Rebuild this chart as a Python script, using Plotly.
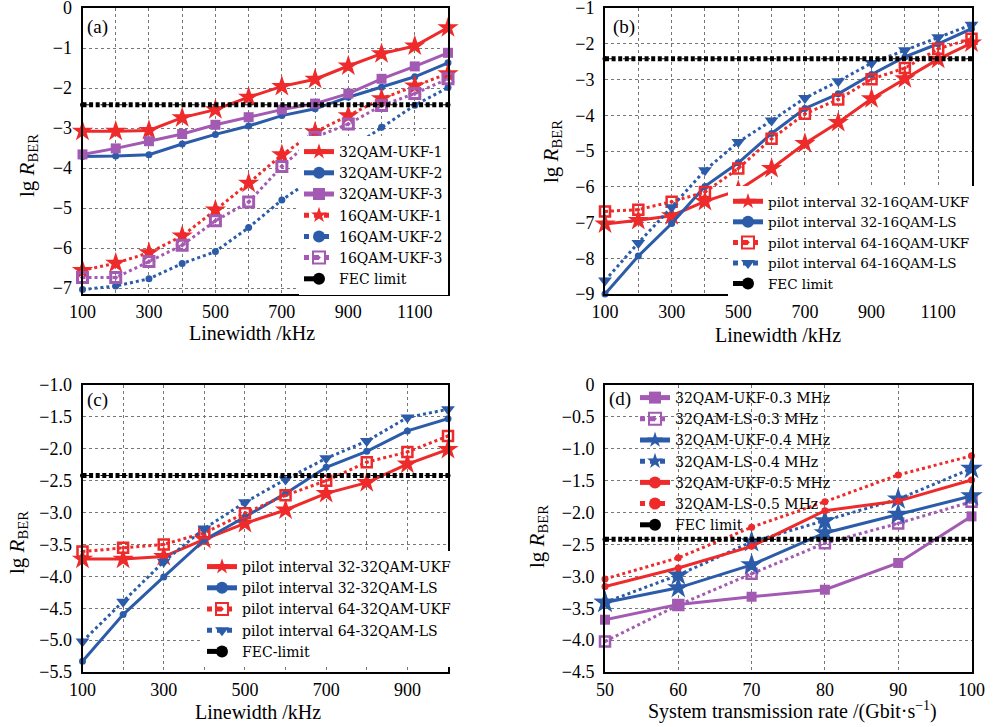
import plotly.graph_objects as go

W, H = 994, 727
OFF = 0
FONT = "Liberation Serif"
LEGFONT = "DejaVu Serif"
RED = "#ee2a2a"
BLUE = "#2c5ca9"
PURPLE = "#a35ab2"
FEC = -2.42

# ---------------- panel (a) ----------------
a_x = [100, 200, 300, 400, 500, 600, 700, 800, 900, 1000, 1100, 1200]
a_32_ukf1 = [-3.08, -3.08, -3.06, -2.74, -2.54, -2.23, -1.96, -1.78, -1.45, -1.14, -0.95, -0.49]
a_32_ukf2 = [-3.71, -3.70, -3.67, -3.40, -3.16, -2.95, -2.69, -2.52, -2.23, -1.98, -1.72, -1.37]
a_32_ukf3 = [-3.66, -3.51, -3.33, -3.15, -2.92, -2.73, -2.54, -2.39, -2.14, -1.77, -1.46, -1.12]
a_16_ukf1 = [-6.56, -6.38, -6.12, -5.70, -5.05, -4.38, -3.67, -3.10, -2.69, -2.27, -1.95, -1.64]
a_16_ukf2 = [-7.04, -6.95, -6.77, -6.39, -6.09, -5.49, -4.80, -4.23, -3.55, -2.98, -2.43, -1.99]
a_16_ukf3 = [-6.74, -6.74, -6.34, -5.93, -5.32, -4.85, -3.96, -3.23, -2.90, -2.44, -2.14, -1.77]
a_yticks = [0, -1, -2, -3, -4, -5, -6, -7]

# ---------------- panel (b) ----------------
b_x = [100, 200, 300, 400, 500, 600, 700, 800, 900, 1000, 1100, 1200]
b_32_ukf = [-7.04, -6.94, -6.81, -6.41, -6.10, -5.49, -4.79, -4.20, -3.54, -2.98, -2.43, -1.98]
b_32_ls = [-9.00, -7.94, -7.03, -5.99, -5.33, -4.51, -3.81, -3.40, -2.86, -2.37, -2.00, -1.58]
b_64_ukf = [-6.69, -6.64, -6.42, -6.15, -5.49, -4.66, -3.96, -3.56, -2.99, -2.68, -2.14, -1.86]
b_64_ls = [-8.62, -7.57, -6.57, -5.54, -4.75, -4.15, -3.52, -3.05, -2.54, -2.18, -1.82, -1.47]
b_yticks = [-1, -2, -3, -4, -5, -6, -7, -8, -9]

# ---------------- panel (c) ----------------
c_x = [100, 200, 300, 400, 500, 600, 700, 800, 900, 1000]
c_32_ukf = [-3.73, -3.73, -3.69, -3.42, -3.17, -2.96, -2.70, -2.53, -2.24, -2.01]
c_32_ls = [-5.33, -4.60, -4.01, -3.43, -3.07, -2.70, -2.29, -2.04, -1.72, -1.53]
c_64_ukf = [-3.61, -3.55, -3.50, -3.32, -3.01, -2.73, -2.50, -2.21, -2.05, -1.80]
c_64_ls = [-5.02, -4.40, -3.77, -3.25, -2.84, -2.48, -2.15, -1.88, -1.51, -1.38]
c_ytickvals = [-1.0, -1.5, -2.0, -2.5, -3.0, -3.5, -4.0, -4.5, -5.0, -5.5]
c_yticktext = ["−1.0", "−1.5", "−2.0", "−2.5", "−3.0", "−3.5", "−4.0", "−4.5", "−5.0", "−5.5"]

# ---------------- panel (d) ----------------
d_x = [50, 60, 70, 80, 90, 100]
d_ukf_03 = [-3.68, -3.44, -3.32, -3.21, -2.79, -2.06]
d_ls_03 = [-4.02, -3.45, -2.96, -2.48, -2.17, -1.83]
d_ukf_04 = [-3.41, -3.18, -2.82, -2.32, -2.03, -1.74]
d_ls_04 = [-3.41, -2.98, -2.46, -2.13, -1.79, -1.31]
d_ukf_05 = [-3.16, -2.87, -2.53, -1.97, -1.82, -1.49]
d_ls_05 = [-3.04, -2.71, -2.23, -1.83, -1.41, -1.11]
d_ytickvals = [0, -0.5, -1.0, -1.5, -2.0, -2.5, -3.0, -3.5, -4.0, -4.5]
d_yticktext = ["0", "−0.5", "−1.0", "−1.5", "−2.0", "−2.5", "−3.0", "−3.5", "−4.0", "−4.5"]

fig = go.Figure()


def add(x, y, name, color, dash, symbol, size, n, legend, lw=3, mlw=0):
    fig.add_trace(go.Scatter(
        x=x, y=y, name=name, mode="lines+markers",
        line=dict(color=color, width=lw, dash=dash),
        marker=dict(color=color, symbol=symbol, size=size,
                    line=dict(color=color, width=mlw)),
        xaxis="x" if n == 1 else f"x{n}", yaxis="y" if n == 1 else f"y{n}",
        legend=legend, cliponaxis=False))


def add_fec(xr, n, legend, name="FEC limit"):
    xa = "x" if n == 1 else f"x{n}"
    ya = "y" if n == 1 else f"y{n}"
    fig.add_trace(go.Scatter(
        x=xr, y=[FEC, FEC], name=name, mode="lines+markers",
        line=dict(color="black", width=1, dash="dash"),
        marker=dict(color="black", size=5, symbol="circle"),
        xaxis=xa, yaxis=ya, legend=legend, cliponaxis=False))
    fig.add_trace(go.Scatter(
        x=xr, y=[FEC, FEC], mode="lines", showlegend=False, hoverinfo="skip",
        line=dict(color="black", width=5, dash="4px,2.6px"),
        xaxis=xa, yaxis=ya, cliponaxis=False))


# (a)
add(a_x, a_32_ukf1, "32QAM-UKF-1", RED, "solid", "star", 16, 1, "legend")
add(a_x, a_32_ukf2, "32QAM-UKF-2", BLUE, "solid", "circle", 7, 1, "legend")
add(a_x, a_32_ukf3, "32QAM-UKF-3", PURPLE, "solid", "square", 10, 1, "legend")
add(a_x, a_16_ukf1, "16QAM-UKF-1", RED, "dot", "star", 16, 1, "legend")
add(a_x, a_16_ukf2, "16QAM-UKF-2", BLUE, "dot", "circle", 7, 1, "legend")
add(a_x, a_16_ukf3, "16QAM-UKF-3", PURPLE, "dot", "square-open-dot", 10, 1, "legend", mlw=3)
add_fec([100, 1200], 1, "legend")

# (b)
add(b_x, b_32_ukf, "pilot interval 32-16QAM-UKF", RED, "solid", "star", 16, 2, "legend2")
add(b_x, b_32_ls, "pilot interval 32-16QAM-LS", BLUE, "solid", "circle", 7, 2, "legend2")
add(b_x, b_64_ukf, "pilot interval 64-16QAM-UKF", RED, "dot", "square-open-dot", 10, 2, "legend2", mlw=2.5)
add(b_x, b_64_ls, "pilot interval 64-16QAM-LS", BLUE, "dot", "triangle-down", 12, 2, "legend2")
add_fec([100, 1200], 2, "legend2")

# (c)
add(c_x, c_32_ukf, "pilot interval 32-32QAM-UKF", RED, "solid", "star", 16, 3, "legend3")
add(c_x, c_32_ls, "pilot interval 32-32QAM-LS", BLUE, "solid", "circle", 7, 3, "legend3")
add(c_x, c_64_ukf, "pilot interval 64-32QAM-UKF", RED, "dot", "square-open-dot", 10, 3, "legend3", mlw=2.5)
add(c_x, c_64_ls, "pilot interval 64-32QAM-LS", BLUE, "dot", "triangle-down", 12, 3, "legend3")
add_fec([100, 1000], 3, "legend3", "FEC-limit")

# (d)
add(d_x, d_ukf_03, "32QAM-UKF-0.3 MHz", PURPLE, "solid", "square", 10, 4, "legend4")
add(d_x, d_ls_03, "32QAM-LS-0.3 MHz", PURPLE, "dot", "square-open-dot", 10, 4, "legend4", mlw=2.5)
add(d_x, d_ukf_04, "32QAM-UKF-0.4 MHz", BLUE, "solid", "star", 17, 4, "legend4")
add(d_x, d_ls_04, "32QAM-LS-0.4 MHz", BLUE, "dot", "star", 17, 4, "legend4")
add(d_x, d_ukf_05, "32QAM-UKF-0.5 MHz", RED, "solid", "circle", 7, 4, "legend4")
add(d_x, d_ls_05, "32QAM-LS-0.5 MHz", RED, "dot", "circle", 7, 4, "legend4")
add_fec([50, 100], 4, "legend4")


def px(v):
    return min(1.0, max(0.0, (v - OFF) / W))


def py(v):
    return min(1.0, max(0.0, 1 - (v - OFF) / H))


GRIDC = "#767676"
GRID = dict(showgrid=True, gridcolor=GRIDC, griddash="dot", gridwidth=1)
AX = dict(showline=True, linecolor="black", linewidth=2, mirror=True, zeroline=False,
          automargin=False, layer="above traces", ticklabeloverflow="allow",
          ticks="", tickfont=dict(family=FONT, size=18, color="black"), **GRID)


def xax(dom, rng, dtick, tick0, anchor, minor_dtick=None):
    d = dict(domain=dom, range=rng, dtick=dtick, tick0=tick0, anchor=anchor,
             ticklabelstandoff=0, **AX)
    if minor_dtick:
        d["minor"] = dict(dtick=minor_dtick, tick0=tick0, showgrid=True,
                          gridcolor=GRIDC, griddash="dot", gridwidth=1)
    return d


def yax(dom, rng, anchor, **kw):
    return dict(domain=dom, range=rng, anchor=anchor, ticklabelstandoff=5, **AX, **kw)


ya_dom = [py(294), py(8)]
yc_dom = [py(672), py(385)]
xl_dom = [px(82.5), px(448)]
xr_dom = [px(605), px(971.5)]


def leg(x, y, size, bg="white"):
    return dict(x=px(x), y=py(y), xanchor="left", yanchor="top",
                font=dict(family=LEGFONT, size=size, color="black"), bgcolor=bg,
                borderwidth=0, tracegroupgap=0, itemsizing="constant")


fig.update_layout(
    template="none",
    width=W, height=H, margin=dict(l=0, r=0, t=0, b=0, pad=0, autoexpand=False),
    paper_bgcolor="white", plot_bgcolor="white",
    font=dict(family=FONT, color="black"),
    xaxis=xax(xl_dom, [100, 1200], 200, 100, "y", 100),
    yaxis=yax(ya_dom, [-7.15, 0], "x", tickvals=a_yticks),
    xaxis2=xax(xr_dom, [100, 1200], 200, 100, "y2", 100),
    yaxis2=yax(ya_dom, [-9, -1], "x2", tickvals=b_yticks),
    xaxis3=xax(xl_dom, [100, 1000], 200, 100, "y3", 100),
    yaxis3=yax(yc_dom, [-5.5, -1], "x3", tickvals=c_ytickvals, ticktext=c_yticktext),
    xaxis4=xax(xr_dom, [50, 100], 10, 50, "y4"),
    yaxis4=yax(yc_dom, [-4.5, 0], "x4", tickvals=d_ytickvals, ticktext=d_yticktext),
    legend=leg(299, 136, 14),
    legend2=leg(728, 186, 13.5),
    legend3=leg(202, 551, 14),
    legend4=leg(635, 382, 14, "rgba(255,255,255,0)"),
    showlegend=True,
)

ann = []


def note(text, x, y, size, angle=0):
    ann.append(dict(text=text, x=px(x), y=py(y), xref="paper", yref="paper",
                    xanchor="center", yanchor="middle", showarrow=False,
                    textangle=angle, font=dict(family=FONT, size=size, color="black")))


for label, x, y in [("(a)", 97, 27), ("(b)", 624, 27), ("(c)", 97, 400), ("(d)", 620, 399)]:
    note(label, x, y, 19)
ytitle = "lg <i>R</i><sub>BER</sub>"
for x, y in [(28, 166), (552, 152), (18, 543), (538, 537)]:
    note(ytitle, x, y, 21, -90)
for text, x, y in [("Linewidth /kHz", 252, 333), ("Linewidth /kHz", 778, 335),
                   ("Linewidth /kHz", 258, 712),
                   ("System transmission rate /(Gbit·s<sup>−1</sup>)", 792, 710)]:
    note(text, x, y, 20)
fig.update_layout(annotations=ann)

fig.write_html("out.html", config={"displayModeBar": False},
               post_script="document.body.style.margin='0';document.body.style.overflow='hidden';")
